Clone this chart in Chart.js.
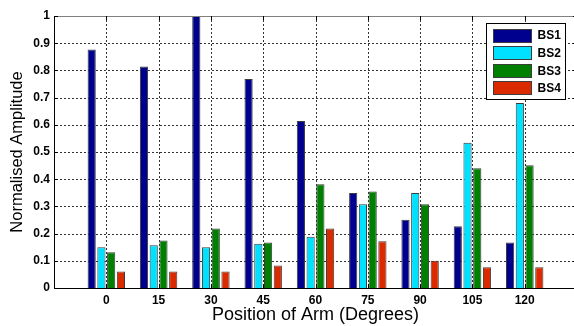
<!DOCTYPE html>
<html>
<head>
<meta charset="utf-8">
<script src="https://cdn.jsdelivr.net/npm/chart.js@4.4.1/dist/chart.umd.min.js"></script>
<style>
  html, body { margin: 0; padding: 0; background: #fff; overflow: hidden; width: 574px; height: 326px; }
  #wrap { width: 577px; height: 326px; position: relative; }
</style>
</head>
<body>
<div id="wrap"><canvas id="c" width="577" height="326"></canvas></div>
<script>
// Arm positions (degrees) and normalised amplitude per base station
const positions = ['0', '15', '30', '45', '60', '75', '90', '105', '120'];
const bs1 = [0.877, 0.814, 1.000, 0.768, 0.614, 0.349, 0.251, 0.227, 0.167];
const bs2 = [0.150, 0.157, 0.150, 0.163, 0.188, 0.308, 0.349, 0.534, 0.680];
const bs3 = [0.131, 0.175, 0.219, 0.167, 0.381, 0.355, 0.308, 0.440, 0.451];
const bs4 = [0.061, 0.061, 0.061, 0.083, 0.219, 0.172, 0.100, 0.076, 0.076];
const seriesNames = ['BS1', 'BS2', 'BS3', 'BS4'];
const seriesColors = ['#00008F', '#00E0FF', '#008000', '#DC2A00'];
const yTickValues = [0, 0.1, 0.2, 0.3, 0.4, 0.5, 0.6, 0.7, 0.8, 0.9, 1];

const FONT = "'Liberation Sans', Arial, Helvetica, sans-serif";
const EDGE = '#3c3c3c';

// one empty slot on each side of the categories, so the axis runs from -15 to 135
const labels = ['', ...positions, ''];
const pad = arr => [null, ...arr, null];

const seriesValues = [bs1, bs2, bs3, bs4];
const datasets = seriesValues.map((vals, i) => ({
  label: seriesNames[i],
  data: pad(vals),
  backgroundColor: seriesColors[i],
  borderColor: EDGE,
  borderWidth: 1,
  categoryPercentage: 0.745,
  barPercentage: 0.84
}));

// dotted grid, painted before the bars so they cover it
function drawDottedGrid(chart) {
  const { ctx, chartArea: a, scales } = chart;
  ctx.save();
  ctx.strokeStyle = '#333';
  ctx.lineWidth = 1;
  ctx.setLineDash([2, 2]);
  ctx.beginPath();
  yTickValues.forEach(v => {
    const py = Math.round(scales.y.getPixelForValue(v)) + 0.5;
    ctx.moveTo(Math.round(a.left) + 2, py); ctx.lineTo(a.right, py);
  });
  for (let i = 1; i < labels.length - 1; i++) {
    const px = Math.round(scales.x.getPixelForTick(i)) + 0.5;
    ctx.moveTo(px, Math.round(a.bottom) - 2); ctx.lineTo(px, a.top);
  }
  ctx.stroke();
  ctx.restore();
}

const gridPlugin = {
  id: 'dottedGrid',
  beforeDatasetsDraw(chart) { drawDottedGrid(chart); }
};

// frame, inward tick marks and the boxed legend in the upper right
const framePlugin = {
  id: 'frame',
  afterDraw(chart) {
    const { ctx, chartArea: a, scales } = chart;
    ctx.save();
    ctx.lineWidth = 1;
    // top border
    ctx.strokeStyle = '#808080';
    ctx.beginPath();
    ctx.moveTo(a.left, Math.round(a.top) + 0.5);
    ctx.lineTo(a.right, Math.round(a.top) + 0.5);
    ctx.stroke();
    // left and bottom axis lines
    ctx.strokeStyle = '#000';
    ctx.beginPath();
    ctx.moveTo(Math.round(a.left) + 0.5, a.top);
    ctx.lineTo(Math.round(a.left) + 0.5, Math.round(a.bottom) + 0.5);
    ctx.lineTo(a.right, Math.round(a.bottom) + 0.5);
    ctx.stroke();
    // inward ticks
    ctx.beginPath();
    for (let i = 1; i < labels.length - 1; i++) {
      const px = Math.round(scales.x.getPixelForTick(i)) + 0.5;
      ctx.moveTo(px, a.bottom); ctx.lineTo(px, a.bottom - 4);
      ctx.moveTo(px, a.top); ctx.lineTo(px, a.top + 4);
    }
    yTickValues.forEach(v => {
      const py = Math.round(scales.y.getPixelForValue(v)) + 0.5;
      ctx.moveTo(a.left, py); ctx.lineTo(a.left + 4, py);
      ctx.moveTo(a.right, py); ctx.lineTo(a.right - 4, py);
    });
    ctx.stroke();

    // legend box
    const boxW = 79, boxH = 76;
    const bx = Math.round(a.right - 91) + 0.5;
    const by = Math.round(a.top + 7) + 0.5;
    ctx.fillStyle = '#fff';
    ctx.fillRect(bx, by, boxW, boxH);
    ctx.strokeStyle = '#000';
    ctx.strokeRect(bx, by, boxW, boxH);
    ctx.font = 'bold 12px ' + FONT;
    ctx.textBaseline = 'middle';
    ctx.textAlign = 'left';
    chart.data.datasets.forEach((ds, i) => {
      const cy = by + 11.5 + i * 17.6;
      const sy = Math.round(cy - 6.5) + 0.5;
      ctx.fillStyle = ds.backgroundColor;
      ctx.fillRect(bx + 7, sy, 38, 13);
      ctx.strokeStyle = EDGE;
      ctx.strokeRect(bx + 7, sy, 38, 13);
      ctx.fillStyle = '#000';
      ctx.fillText(ds.label, bx + 51, cy + 1);
    });
    ctx.restore();
  }
};

new Chart(document.getElementById('c'), {
  type: 'bar',
  data: { labels, datasets },
  plugins: [gridPlugin, framePlugin],
  options: {
    responsive: false,
    animation: false,
    devicePixelRatio: 1,
    layout: { padding: { top: 16, right: 0, left: 0, bottom: 0 } },
    plugins: { legend: { display: false }, tooltip: { enabled: false } },
    scales: {
      x: {
        offset: false,
        afterFit: s => { s.height = 38; s.paddingLeft = 0; s.paddingRight = 0; },
        grid: { display: false, drawTicks: false, offset: false },
        border: { display: false },
        ticks: {
          color: '#000', font: { family: FONT, size: 12, weight: 'bold' },
          padding: 5, autoSkip: false, maxRotation: 0
        },
        title: {
          display: true, text: 'Position of Arm (Degrees)', color: '#000',
          font: { family: FONT, size: 18 }, padding: { top: 0, bottom: 0 }
        }
      },
      y: {
        min: 0, max: 1,
        afterFit: s => { s.width = 54; },
        afterBuildTicks: s => { s.ticks = yTickValues.map(v => ({ value: v })); },
        grid: { display: false, drawTicks: false },
        border: { display: false },
        ticks: {
          color: '#000', font: { family: FONT, size: 12, weight: 'bold' },
          padding: 4,
          callback: v => String(v)
        },
        title: {
          display: true, text: 'Normalised Amplitude', color: '#000',
          font: { family: FONT, size: 16.5 }, padding: { top: 8, bottom: 0 }
        }
      }
    }
  }
});
</script>
</body>
</html>
